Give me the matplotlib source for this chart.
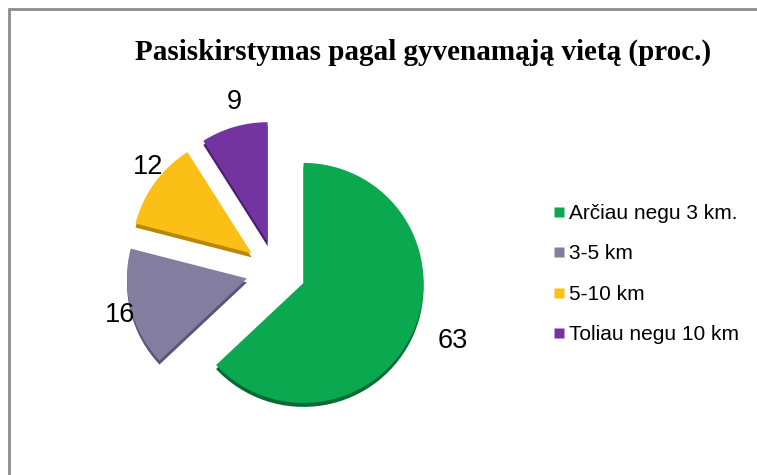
import matplotlib
matplotlib.use('Agg')
import matplotlib.pyplot as plt
from matplotlib.patches import Rectangle
from matplotlib.lines import Line2D

# Duomenys
kategorijos = ['Arčiau negu 3 km.', '3-5 km', '5-10 km', 'Toliau negu 10 km']
reiksmes = [63, 16, 12, 9]
spalvos = ['#0aa84f', '#837d9f', '#fbbf16', '#7333a0']
seseliai = ['#086b33', '#5b5676', '#b5880c', '#4a1f6b']
pavadinimas = 'Pasiskirstymas pagal gyvenamąją vietą (proc.)'

W, H = 757, 475
fig = plt.figure(figsize=(W / 100, H / 100), dpi=100)
ax = fig.add_axes([0, 0, 1, 1])

centras = (276, H - 271)
spindulys = 120
isstumimas = [30, 30, 30, 30]  # pikseliais, nes ašys sutampa su paveikslo pikseliais

# "3D" šešėlis po skiltimis
ax.pie(reiksmes, colors=seseliai, startangle=90, counterclock=False,
       explode=isstumimas, radius=spindulys,
       center=(centras[0], centras[1] - 4), frame=True,
       wedgeprops=dict(linewidth=0))

skiltys, tekstai = ax.pie(reiksmes, colors=spalvos, startangle=90, counterclock=False,
                          explode=isstumimas, radius=spindulys, center=centras,
                          frame=True, labels=[str(v) for v in reiksmes],
                          labeldistance=1.22,
                          textprops=dict(fontsize=19.5, family='Liberation Sans'),
                          wedgeprops=dict(linewidth=0))
ax.set_xlim(0, W)
ax.set_ylim(0, H)
ax.set_aspect('equal')
ax.axis('off')

fig.text(423 / W, 1 - 52 / H, pavadinimas, ha='center', va='center',
         family='Liberation Serif', fontweight='bold', fontsize=21)

rankenos = [Line2D([], [], linestyle='none', marker='s', markersize=7.5,
                   markerfacecolor=c, markeredgecolor='none') for c in spalvos]
leg = fig.legend(rankenos, kategorijos, loc='center left',
                 bbox_to_anchor=(553 / W, 1 - 274 / H),
                 frameon=False, prop=dict(family='Liberation Sans', size=15),
                 handlelength=0.55, handleheight=0.55, handletextpad=0.2,
                 labelspacing=1.03, borderpad=0, borderaxespad=0)

# rėmelis (dešinė ir apačia už paveikslo ribų)
fig.patches.append(Rectangle((9 / W, -0.1), 1.2, 1 - 9 / H + 0.1,
                             transform=fig.transFigure, fill=False,
                             edgecolor='#8c8c8c', linewidth=2))

fig.savefig('out.png', dpi=100)
